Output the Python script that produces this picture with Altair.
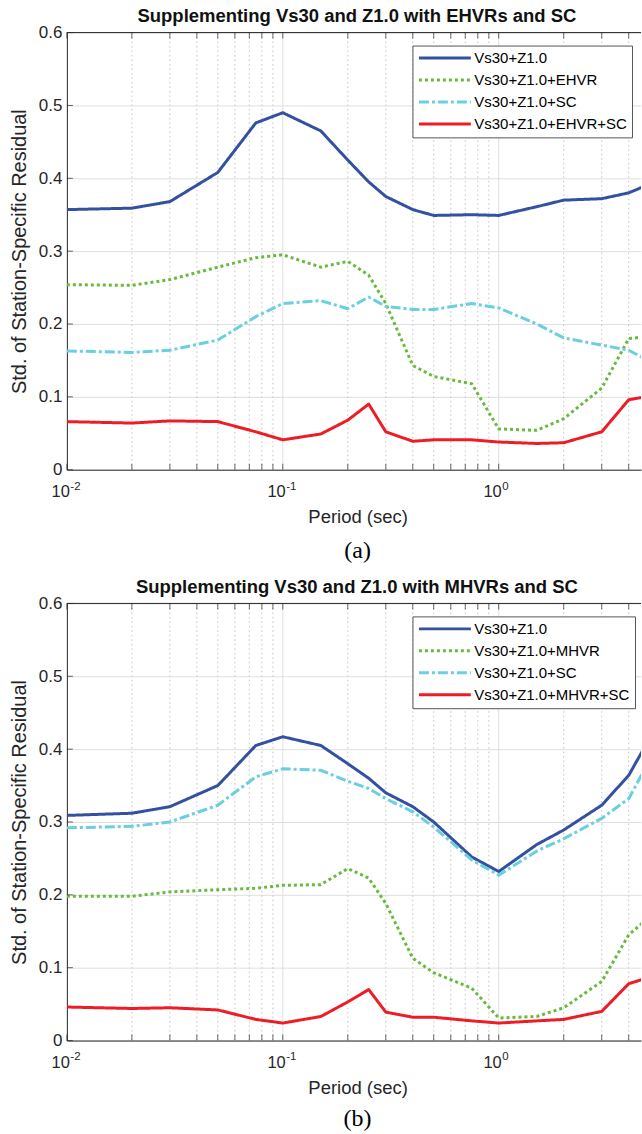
import altair as alt
import pandas as pd

# ---------------- data ----------------
periods = [0.01, 0.02, 0.03, 0.05, 0.075, 0.1, 0.15, 0.2, 0.25, 0.3, 0.4, 0.5,
           0.75, 1.0, 1.5, 2.0, 3.0, 4.0, 5.0]

# panel (a)
a_base = [0.357, 0.359, 0.368, 0.408, 0.476, 0.490, 0.465, 0.425, 0.395, 0.375,
          0.357, 0.349, 0.350, 0.349, 0.361, 0.370, 0.372, 0.380, 0.392]
a_hvr = [0.254, 0.253, 0.261, 0.278, 0.291, 0.295, 0.278, 0.286, 0.267, 0.228,
         0.143, 0.128, 0.118, 0.056, 0.054, 0.070, 0.112, 0.180, 0.183]
a_sc = [0.163, 0.161, 0.164, 0.178, 0.210, 0.228, 0.232, 0.221, 0.237, 0.224,
        0.220, 0.220, 0.228, 0.222, 0.200, 0.181, 0.171, 0.164, 0.149]
a_both = [0.066, 0.064, 0.067, 0.066, 0.052, 0.041, 0.049, 0.068, 0.090, 0.052,
          0.039, 0.041, 0.041, 0.038, 0.036, 0.037, 0.052, 0.096, 0.101]

# panel (b)
b_base = [0.309, 0.312, 0.321, 0.350, 0.405, 0.417, 0.405, 0.380, 0.360, 0.340,
          0.321, 0.300, 0.252, 0.232, 0.269, 0.289, 0.323, 0.364, 0.415]
b_hvr = [0.198, 0.198, 0.204, 0.207, 0.209, 0.213, 0.214, 0.236, 0.223, 0.188,
         0.113, 0.093, 0.072, 0.031, 0.033, 0.045, 0.081, 0.145, 0.170]
b_sc = [0.292, 0.294, 0.300, 0.323, 0.362, 0.373, 0.371, 0.356, 0.346, 0.332,
        0.314, 0.293, 0.248, 0.227, 0.260, 0.277, 0.305, 0.332, 0.385]
b_both = [0.046, 0.044, 0.045, 0.042, 0.029, 0.024, 0.033, 0.053, 0.070, 0.039,
          0.032, 0.032, 0.027, 0.024, 0.027, 0.029, 0.040, 0.078, 0.087]

names_a = ["Vs30+Z1.0", "Vs30+Z1.0+EHVR", "Vs30+Z1.0+SC", "Vs30+Z1.0+EHVR+SC"]
names_b = ["Vs30+Z1.0", "Vs30+Z1.0+MHVR", "Vs30+Z1.0+SC", "Vs30+Z1.0+MHVR+SC"]
title_a = "Supplementing Vs30 and Z1.0 with EHVRs and SC"
title_b = "Supplementing Vs30 and Z1.0 with MHVRs and SC"

colors = ["#3451A1", "#66BB3C", "#6ACFDF", "#EE1D25"]
dashes = [[1, 0], [3, 3], [10, 3, 3, 3], [1, 0]]

major_x = [0.01, 0.1, 1.0]
minor_x = [0.02, 0.03, 0.04, 0.05, 0.06, 0.07, 0.08, 0.09,
           0.2, 0.3, 0.4, 0.5, 0.6, 0.7, 0.8, 0.9, 2.0, 3.0, 4.0]
label_exp = ["-2", "-1", "0"]
y_ticks = [0.0, 0.1, 0.2, 0.3, 0.4, 0.5, 0.6]

# ---------------- layout ----------------
W = 575.3
H = 438
XMAX = 4.56
FONT = "Liberation Sans"
AX = "#262626"


def panel(title, names, series, tag, legend_y, tag_dy):
    rows = []
    for name, vals in zip(names, series):
        for p, v in zip(periods, vals):
            rows.append({"period": p, "value": v, "series": name})
    df = pd.DataFrame(rows)
    df_minor = pd.DataFrame({"period": minor_x})
    df_major = pd.DataFrame({"period": major_x[1:]})
    df_allticks = pd.DataFrame({"period": major_x + minor_x})
    df_yt = pd.DataFrame({"value": y_ticks})
    df_lab = pd.DataFrame({"period": major_x, "exp": label_exp})
    one = pd.DataFrame({"k": [0]})

    xscale = alt.Scale(type="log", domain=[0.01, XMAX], nice=False)
    yscale = alt.Scale(domain=[0, 0.6], nice=False)

    x_enc = alt.X("period:Q", scale=xscale,
                  axis=alt.Axis(labels=False, ticks=False, grid=False, domain=True,
                                domainColor=AX, domainWidth=1,
                                title="Period (sec)", titleX=291.3, titleY=47,
                                titleBaseline="middle", titleFont=FONT,
                                titleFontSize=18.5, titleFontWeight="normal",
                                titleColor=AX))
    y_enc = alt.Y("value:Q", scale=yscale,
                  axis=alt.Axis(values=y_ticks, format=".1~f", ticks=False,
                                labelPadding=5, labelFont=FONT, labelFontSize=17,
                                labelColor=AX, grid=True, gridColor="#dfdfdf",
                                gridWidth=1, domain=True, domainColor=AX,
                                title="Std. of Station-Specific Residual",
                                titleX=-47, titleBaseline="middle", titleFont=FONT,
                                titleFontSize=20, titleFontWeight="normal",
                                titleColor=AX))

    legend = alt.Legend(title=None, orient="none", legendX=346.3, legendY=legend_y,
                        symbolType="stroke", symbolSize=2704, symbolStrokeWidth=3,
                        clipHeight=15, rowPadding=6, padding=5, labelOffset=2,
                        labelFont=FONT, labelFontSize=15, labelColor="#000",
                        strokeColor="#555555", fillColor="white", labelLimit=0)

    minor = alt.Chart(df_minor).mark_rule(
        color="#c4c4c4", strokeWidth=1, strokeDash=[1.5, 3]
    ).encode(x=x_enc)
    major = alt.Chart(df_major).mark_rule(
        color="#dfdfdf", strokeWidth=1
    ).encode(x=x_enc)

    lines = alt.Chart(df).mark_line(strokeWidth=3, clip=True, strokeJoin="round").encode(
        x=x_enc,
        y=y_enc,
        color=alt.Color("series:N", scale=alt.Scale(domain=names, range=colors),
                        legend=legend, sort=names),
        strokeDash=alt.StrokeDash("series:N", scale=alt.Scale(domain=names, range=dashes),
                                  legend=legend, sort=names),
    )

    tick_bottom = alt.Chart(df_allticks).mark_tick(
        orient="vertical", size=6, thickness=1, color=AX
    ).encode(x=x_enc, y=alt.value(H - 3))
    tick_top = alt.Chart(df_allticks).mark_tick(
        orient="vertical", size=6, thickness=1, color=AX
    ).encode(x=x_enc, y=alt.value(3))
    tick_left = alt.Chart(df_yt).mark_tick(
        orient="horizontal", size=6, thickness=1, color=AX
    ).encode(y=y_enc, x=alt.value(3))
    top_border = alt.Chart(one).mark_rule(color=AX, strokeWidth=1).encode(
        x=alt.value(0), x2=alt.value(W), y=alt.value(0)
    )

    lab10 = alt.Chart(df_lab).mark_text(
        font=FONT, fontSize=16.5, color=AX, align="right", baseline="middle", dx=3
    ).encode(x=x_enc, y=alt.value(H + 22.4), text=alt.value("10"))
    labexp = alt.Chart(df_lab).mark_text(
        font=FONT, fontSize=11.5, color=AX, align="left", baseline="middle", dx=3.5
    ).encode(x=x_enc, y=alt.value(H + 17), text="exp:N")

    tag_text = alt.Chart(one).mark_text(
        font="Liberation Serif", fontSize=24, color="#000", align="center",
        baseline="middle"
    ).encode(x=alt.value(291.3), y=alt.value(H + tag_dy), text=alt.value(tag))

    return alt.layer(
        minor, major, lines, tick_bottom, tick_top, tick_left, top_border,
        lab10, labexp, tag_text
    ).properties(
        width=W, height=H,
        title=alt.TitleParams(title, font=FONT, fontSize=18.5, fontWeight="bold",
                              color="#111111", anchor="middle", offset=-2, dx=3),
    )


top = panel(title_a, names_a, [a_base, a_hvr, a_sc, a_both], "(a)", 13, 81.5)
bottom = panel(title_b, names_b, [b_base, b_hvr, b_sc, b_both], "(b)", 13, 78.5)

chart = alt.vconcat(top, bottom, spacing=14).resolve_scale(
    color="independent", strokeDash="independent"
).resolve_legend(
    color="independent", strokeDash="independent"
).configure_view(stroke=None).properties(
    padding={"left": 10, "top": 5.5, "right": 0, "bottom": 0},
    background="white",
)

chart.save("out.html", embed_options={"renderer": "svg", "actions": False})
